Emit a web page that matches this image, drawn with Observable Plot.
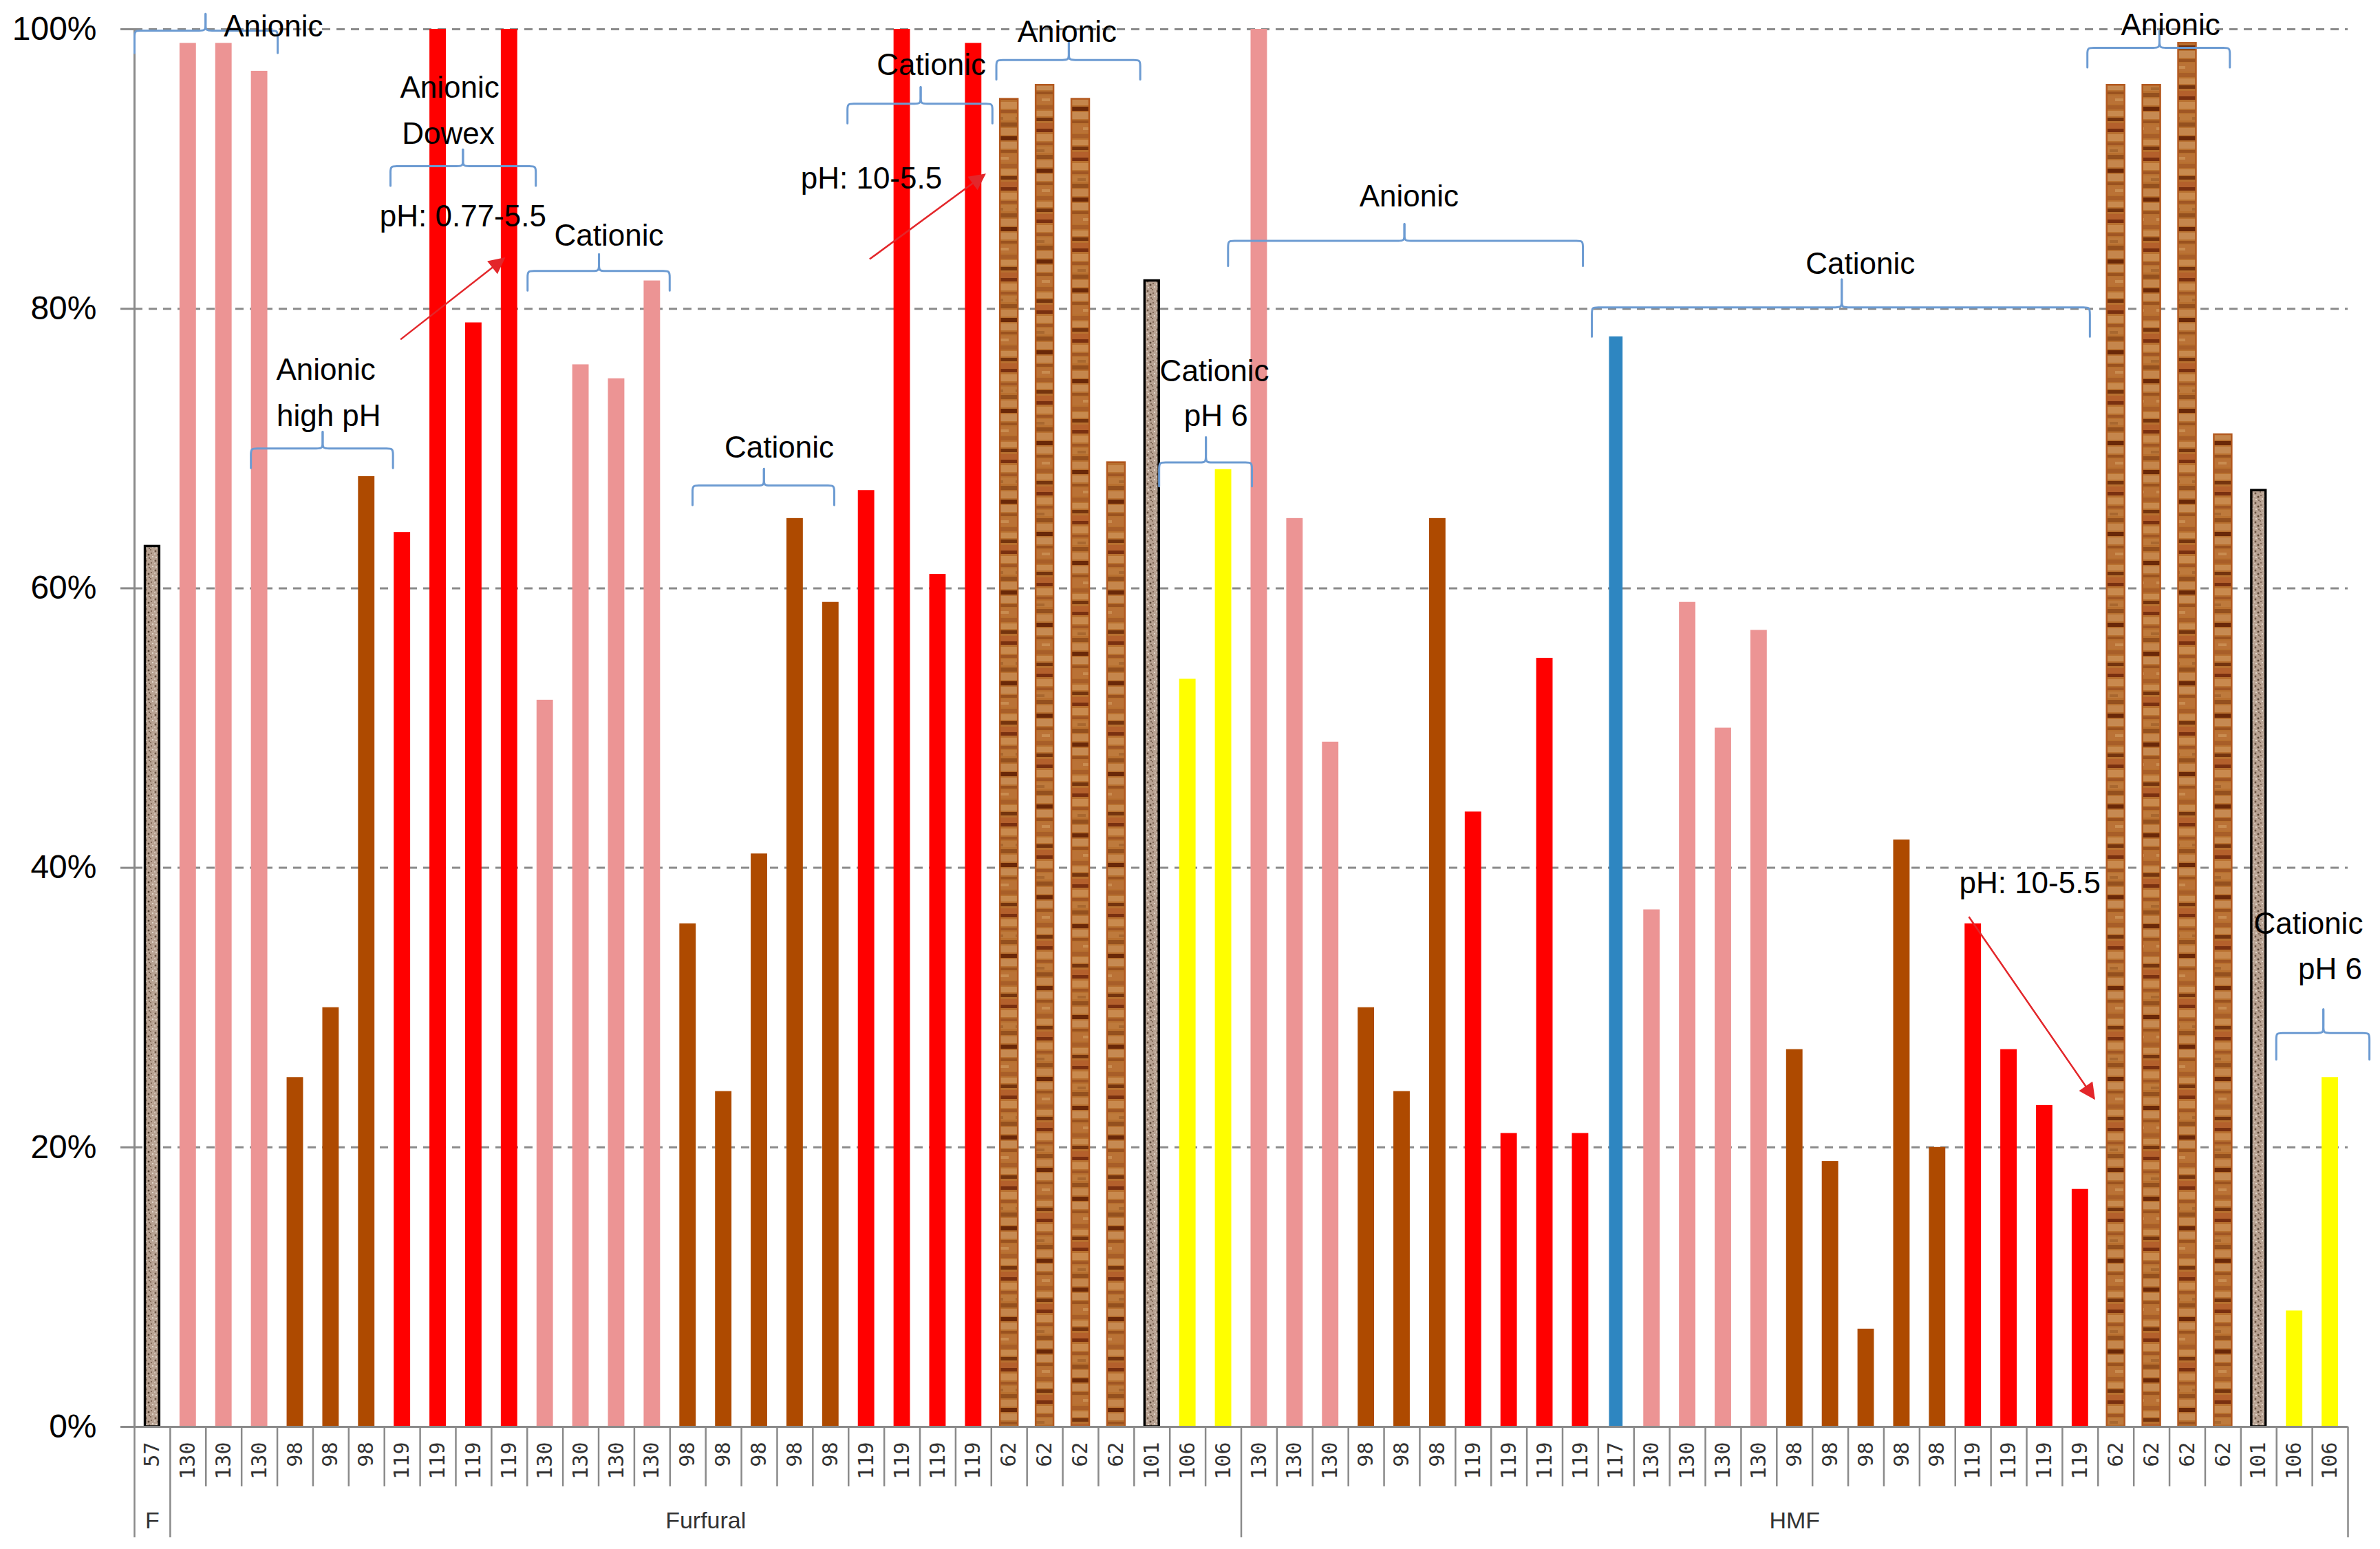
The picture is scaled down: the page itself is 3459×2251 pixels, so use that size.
<!DOCTYPE html>
<html>
<head>
<meta charset="utf-8">
<script src="https://cdn.jsdelivr.net/npm/d3@7"></script>
<script src="https://cdn.jsdelivr.net/npm/@observablehq/plot@0.6"></script>
<style>
  html, body { margin: 0; padding: 0; background: #ffffff; }
  #chart svg { display: block; }
</style>
</head>
<body>
<div id="chart"></div>
<script>
// ---------- data ----------
const resins = [
  "57",
  "130","130","130","98","98","98","119","119","119","119","130","130","130","130",
  "98","98","98","98","98","119","119","119","119","62","62","62","62","101","106","106",
  "130","130","130","98","98","98","119","119","119","119","117","130","130","130","130",
  "98","98","98","98","98","119","119","119","119","62","62","62","62","101","106","106"
];
const removal = [
  63,
  99,99,97, 25,30,68, 64,100,79,100, 52,76,75,82,
  36,24,41,65,59, 67,100,61,99, 95,96,95,69, 82, 53.5,68.5,
  100,65,49, 30,24,65, 44,21,55,21, 78, 37,59,50,57,
  27,19,7,42,20, 36,27,23,17, 96,96,99,71, 67, 8.3,25
];
const groupNames = ["F", "Furfural", "HMF"];
const groupStart = [0, 1, 31];
const groupEnd = [0, 30, 61];
const yTicks = [0, 20, 40, 60, 80, 100];

// annotation braces (category index units / percent)
const braceX1 = [-0.5, 2.76, 6.67, 10.51, 15.13, 19.47, 23.64, 28.20, 30.13, 40.32, 54.20, 59.49];
const braceX2 = [3.51, 6.74, 10.74, 14.49, 19.10, 23.53, 27.67, 30.80, 40.07, 54.27, 58.19, 62.10];
const braceXm = [1.49, 4.77, 8.70, 12.51, 17.13, 21.52, 25.67, 29.51, 35.07, 47.32, 56.22, 60.81];
const braceY  = [99.9, 70.0, 90.2, 82.7, 67.35, 94.67, 97.8, 69.0, 84.86, 80.1, 98.67, 28.18];
const braceDown = [1.6, 1.4, 1.4, 1.4, 1.4, 1.4, 1.4, 1.7, 1.8, 2.1, 1.4, 1.9];
const braceUp   = [1.2, 1.2, 1.2, 1.2, 1.2, 1.2, 1.3, 1.8, 1.2, 2.0, 1.2, 1.7];

const noteText = ["Anionic", "Anionic", "high pH", "Anionic", "Dowex", "pH: 0.77-5.5", "Cationic",
  "Cationic", "Cationic", "pH: 10-5.5", "Anionic", "Cationic", "pH 6",
  "Anionic", "Cationic", "Anionic", "pH: 10-5.5", "Cationic", "pH 6"];
const noteX = [3.39, 4.86, 4.94, 8.33, 8.29, 8.70, 12.79,
  17.56, 21.82, 20.14, 25.62, 29.75, 29.79,
  35.2, 47.84, 56.53, 52.59, 60.39, 61.0];
const noteY = [100.2, 75.6, 72.3, 95.8, 92.5, 86.6, 85.2,
  70.05, 97.4, 89.3, 99.8, 75.5, 72.3,
  88.0, 83.2, 100.3, 38.9, 35.97, 32.7];

const arrowX1 = [6.95, 20.09, 50.88];
const arrowY1 = [77.8, 83.55, 36.5];
const arrowX2 = [9.85, 23.31, 54.39];
const arrowY2 = [83.6, 89.6, 23.5];

// ---------- styles ----------
const resinFill = {
  "130": "#EC9494", "98": "#AE4A00", "119": "#FF0000", "106": "#FFFF00",
  "117": "#2E86C1", "62": "wood", "57": "granite", "101": "granite"
};
const barWidth = {"117": 0.38};

const bars = resins.map((r, i) => ({i, resin: r, value: removal[i], kind: resinFill[r]}));
const plainBars = bars.filter(d => d.kind !== "wood" && d.kind !== "granite");
const woodBars = bars.filter(d => d.kind === "wood");
const graniteBars = bars.filter(d => d.kind === "granite");
const hw = d => (barWidth[d.resin] || 0.46) / 2;

// brace polylines
const bracePts = [];
braceX1.forEach((x1, k) => {
  const x2 = braceX2[k], xm = braceXm[k], y = braceY[k], d = braceDown[k], t = braceUp[k];
  const ex = 0.18, ey = 0.45;
  const half = (xe, s) => [
    [xe, y - d], [xe, y - d * 0.6], [xe, y - ey], [xe, y],
    [xe + s * ex, y], [xe + s * 2 * ex, y], [xm - s * 2 * ex, y], [xm - s * ex, y],
    [xm, y], [xm, y + ey], [xm, y + t]
  ];
  half(x1, 1).forEach(([x, yy]) => bracePts.push({id: k + "L", x, y: yy}));
  half(x2, -1).forEach(([x, yy]) => bracePts.push({id: k + "R", x, y: yy}));
});
const notes = noteText.map((t, k) => ({text: t, x: noteX[k], y: noteY[k]}));
const arrows = arrowX1.map((x, k) => ({x1: x, y1: arrowY1[k], x2: arrowX2[k], y2: arrowY2[k]}));

const boundaries = d3.range(resins.length + 1).map(k => k - 0.5);
const groupBounds = [groupStart[0] - 0.5, ...groupEnd.map(e => e + 0.5)];
const catBounds = boundaries.filter(b => !groupBounds.includes(b));
const groupsData = groupNames.map((g, k) => ({name: g, x: (groupStart[k] + groupEnd[k]) / 2}));

const grey = "#8a8a8a";
const textFont = "Liberation Sans, Arial, sans-serif";

const svg = Plot.plot({
  width: 3459,
  height: 2251,
  marginLeft: 195,
  marginRight: 47,
  marginTop: 42,
  marginBottom: 178,
  style: {fontFamily: textFont, background: "#ffffff", color: "#000", overflow: "visible"},
  x: {domain: [-0.5, resins.length - 0.5], axis: null},
  y: {domain: [0, 100], axis: null},
  color: {type: "identity"},
  marks: [
    Plot.ruleY(yTicks.filter(v => v > 0), {stroke: grey, strokeWidth: 3, strokeDasharray: "12,9"}),
    Plot.axisY({ticks: yTicks, tickFormat: d => d + "%", tickSize: 20, tickPadding: 35,
      fontSize: 48, stroke: grey, strokeWidth: 3, label: null, fill: "#000"}),
    Plot.rect(plainBars, {x1: d => d.i - hw(d), x2: d => d.i + hw(d), y1: 0, y2: "value", fill: "kind"}),
    Plot.rect(woodBars, {x1: d => d.i - hw(d) - 0.02, x2: d => d.i + hw(d) + 0.02, y1: 0, y2: "value",
      fill: d => "url(#wood" + (d.i % 3) + ")", stroke: "#B3591F", strokeWidth: 2.5}),
    Plot.rect(graniteBars, {x1: d => d.i - hw(d) + 0.03, x2: d => d.i + hw(d) - 0.03, y1: 0, y2: "value",
      fill: "url(#granite)", stroke: "#000", strokeWidth: 3.5}),
    Plot.ruleY([0], {stroke: grey, strokeWidth: 3}),
    Plot.ruleX([-0.5], {y1: 0, y2: 100, stroke: grey, strokeWidth: 3}),
    Plot.ruleX(catBounds, {y1: 0, y2: -4.28, stroke: grey, strokeWidth: 2.5}),
    Plot.ruleX(groupBounds, {y1: 0, y2: -7.93, stroke: grey, strokeWidth: 2.5}),
    Plot.text(bars, {x: "i", y: 0, text: "resin", rotate: -90, textAnchor: "end", dy: 22,
      fontSize: 30, fontFamily: "DejaVu Sans Mono, monospace", fill: "#333"}),
    Plot.text(groupsData, {x: "x", y: 0, text: "name", dy: 137, fontSize: 34, fill: "#333"}),
    Plot.line(bracePts, {x: "x", y: "y", z: "id", curve: "basis", stroke: "#6C9BD2", strokeWidth: 3}),
    Plot.link(arrows, {x1: "x1", y1: "y1", x2: "x2", y2: "y2", stroke: "#E3262A", strokeWidth: 2.5}),
    Plot.text(notes, {x: "x", y: "y", text: "text", fontSize: 44, fill: "#000"})
  ]
});

// textures and arrowheads
const defs = d3.select(svg).insert("defs", ":first-child");
const woodBands = [
  [0,8,"#B4602C"],[8,5,"#7A3010"],[16,10,"#C98A4E"],[28,4,"#A05624"],[34,9,"#BE7A3C"],
  [46,6,"#94501E"],[54,10,"#C5864C"],[66,6,"#6A2808"],[74,10,"#C68A52"],[86,4,"#9A521F"],
  [92,12,"#BA7236"],[106,6,"#A85E28"],[114,8,"#C88A4E"],[124,5,"#74340E"]
];
[0, 47, 89].forEach((off, k) => {
  const p = defs.append("pattern").attr("id", "wood" + k).attr("patternUnits", "userSpaceOnUse")
    .attr("width", 30).attr("height", 132).attr("patternTransform", `translate(0,${off})`);
  p.append("rect").attr("width", 30).attr("height", 132).attr("fill", "#B8702F");
  woodBands.forEach(([y, h, c]) => p.append("rect").attr("x", 0).attr("y", y).attr("width", 30).attr("height", h).attr("fill", c));
  p.append("rect").attr("x", 6).attr("y", 38).attr("width", 12).attr("height", 4).attr("fill", "#9A5A26").attr("opacity", 0.6);
  p.append("rect").attr("x", 14).attr("y", 96).attr("width", 12).attr("height", 4).attr("fill", "#D39C60").attr("opacity", 0.6);
});
const gp = defs.append("pattern").attr("id", "granite").attr("patternUnits", "userSpaceOnUse")
  .attr("width", 14).attr("height", 14);
gp.append("rect").attr("width", 14).attr("height", 14).attr("fill", "#B8A292");
[[2,3,1.4,"#6B5544"],[9,1,1.1,"#7C6452"],[6,8,1.5,"#5A4636"],[12,11,1,"#EEE6DC"],
 [3,12,1.1,"#E8DED2"],[10,6,1,"#6E5646"],[1,7,0.8,"#F2ECE4"],[7,13,0.9,"#5E4838"],[13,3,0.8,"#D8CABC"]]
  .forEach(([cx, cy, r, c]) => gp.append("circle").attr("cx", cx).attr("cy", cy).attr("r", r).attr("fill", c));
defs.append("marker").attr("id", "arrowhead").attr("viewBox", "0 0 10 10").attr("refX", 9).attr("refY", 5)
  .attr("markerUnits", "userSpaceOnUse").attr("markerWidth", 30).attr("markerHeight", 24).attr("orient", "auto")
  .append("path").attr("d", "M0,0L10,5L0,10z").attr("fill", "#E3262A");
d3.select(svg).selectAll("g[aria-label='link'] path").attr("marker-end", "url(#arrowhead)");

document.getElementById("chart").appendChild(svg);
</script>
</body>
</html>
